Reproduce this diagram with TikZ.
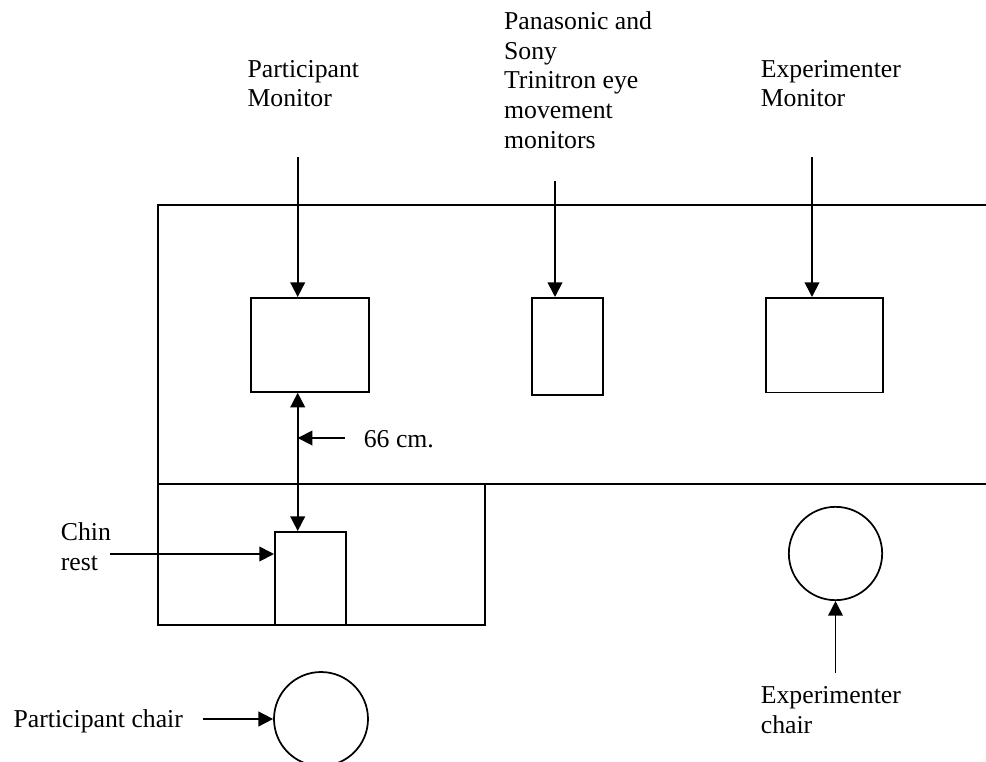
\documentclass[tikz,border=0pt]{standalone}
\usepackage{fontspec}
\setmainfont{Liberation Serif}
\usetikzlibrary{arrows.meta}
\tikzset{every picture/.style={x=0.75pt,y=-0.75pt}}

\begin{document}
\begin{tikzpicture}[
    line width=1.3pt,
    pointer/.style={-{Triangle[length=11pt,width=11pt]}},
    twoway/.style={{Triangle[length=11pt,width=11pt]}-{Triangle[length=11pt,width=11pt]}},
    monitorbox/.style={draw, rectangle, inner sep=0pt, anchor=north west},
    chairring/.style={draw, circle, inner sep=0pt},
    tag/.style={anchor=base west, inner sep=0pt, align=left, font=\fontsize{19.3}{22.2}\selectfont}
]
    \useasboundingbox (0,0) rectangle (986,761);
    \clip (0,0) rectangle (986,761);
    % table outline
    \draw (986,205) -- (158,205) -- (158,625) -- (485,625) -- (485,484);
    \draw (158,484) -- (986,484);
    % monitors, chin rest and chairs
    \node[monitorbox, minimum width=88.5pt, minimum height=70.5pt] (pmon) at (250,297) {};
    \node[monitorbox, minimum width=53.25pt, minimum height=73pt] (eyemon) at (531,297) {};
    \node[monitorbox, minimum width=87.75pt, minimum height=71pt] (emon) at (765,297) {};
    \node[monitorbox, minimum width=53.25pt, minimum height=70pt] (chin) at (274,531) {};
    \node[chairring, minimum size=70.5pt] (pchair) at (321,719) {};
    \node[chairring, minimum size=70pt] (echair) at (835.5,553.5) {};
    % labels (base = last line)
    \node[tag] (pmonlabel) at (246.7,106.7) {Participant\\Monitor};
    \node[tag] (eyemonlabel) at (503.3,148) {Panasonic and\\Sony\\Trinitron eye\\movement\\monitors};
    \node[tag] (emonlabel) at (760,106.7) {Experimenter\\Monitor};
    \node[tag] (distlabel) at (363,447) {66 cm.};
    \node[tag] (chinlabel) at (60,570) {Chin\\rest};
    \node[tag] (pchairlabel) at (12.7,727) {Participant chair};
    \node[tag] (echairlabel) at (760,733) {Experimenter\\chair};
    % arrow tails
    \coordinate (pmontail) at (297.7,157);
    \coordinate (eyemontail) at (555,181);
    \coordinate (emontail) at (812,157);
    \coordinate (disttail) at (345,438);
    \coordinate (chintail) at (110,554);
    \coordinate (pchairtail) at (203,719);
    \coordinate (echairtail) at (835.5,673);
    % arrows
    \draw[pointer] (pmontail) -- (pmontail |- pmon.north);
    \draw[pointer] (eyemontail) -- (eyemontail |- eyemon.north);
    \draw[pointer] (emontail) -- (emontail |- emon.north);
    \draw[twoway] (pmontail |- pmon.south) -- (pmontail |- chin.north);
    \draw[pointer] (disttail) -- (pmontail |- disttail);
    \draw[pointer] (chintail) -- (chin.west |- chintail);
    \draw[pointer] (pchairtail) -- (pchair.west);
    \draw[pointer] (echairtail) -- (echair.south);
\end{tikzpicture}
\end{document}
